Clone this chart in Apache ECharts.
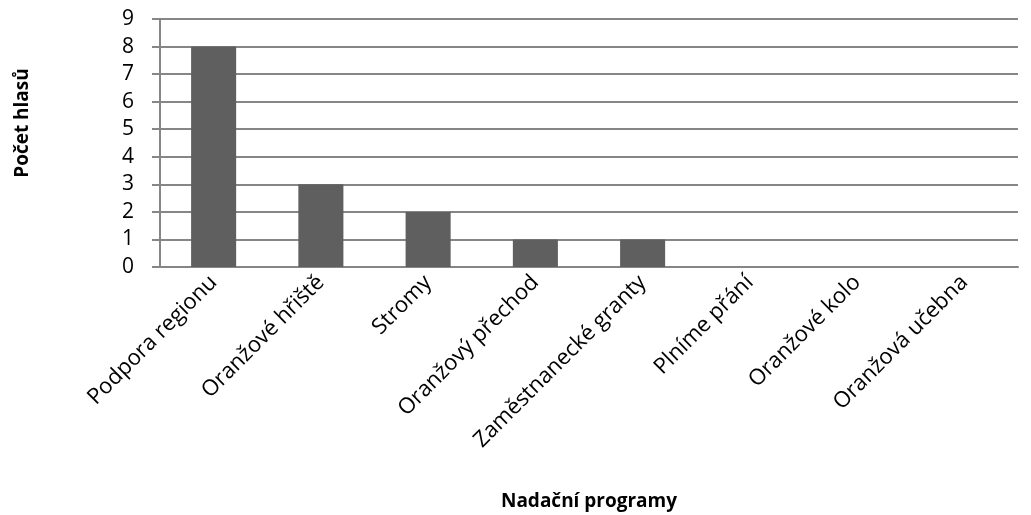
<!DOCTYPE html>
<html>
<head>
<meta charset="utf-8">
<script src="https://cdn.jsdelivr.net/npm/echarts@6/dist/echarts.min.js"></script>
<style>
  html, body { margin: 0; padding: 0; background: #fff; }
  #chart { width: 1031px; height: 515px; }
</style>
</head>
<body>
<div id="chart"></div>
<script>
const categories = ['Podpora regionu', 'Oranžové hřiště', 'Stromy', 'Oranžový přechod',
  'Zaměstnanecké granty', 'Plníme přání', 'Oranžové kolo', 'Oranžová učebna']
const votes = [8, 3, 2, 1, 1, 0, 0, 0]
const xTitle = 'Nadační programy'
const yTitle = 'Počet hlasů'

const font = '"Open Sans", sans-serif'
const lineColor = '#868686'

const chart = echarts.init(document.getElementById('chart'))
chart.setOption({
  animation: false,
  grid: { left: 160, right: 13, top: 19, bottom: 248 },
  graphic: [{
    type: 'text',
    x: 23,
    y: 123,
    rotation: Math.PI / 2,
    style: {
      text: yTitle,
      fontFamily: font,
      fontWeight: 'bold',
      fontSize: 19,
      fill: '#000',
      align: 'center',
      verticalAlign: 'middle'
    }
  }, {
    type: 'text',
    x: 589,
    y: 502,
    style: {
      text: xTitle,
      fontFamily: font,
      fontWeight: 'bold',
      fontSize: 19,
      fill: '#000',
      align: 'center',
      verticalAlign: 'middle'
    }
  }],
  xAxis: {
    type: 'category',
    data: categories,
    axisLine: { lineStyle: { color: lineColor, width: 2 } },
    axisTick: { show: false },
    axisLabel: {
      rotate: 45,
      interval: 0,
      margin: 12,
      fontFamily: font,
      fontSize: 22,
      color: '#000'
    }
  },
  yAxis: {
    type: 'value',
    min: 0,
    max: 9,
    interval: 1,
    axisLine: { show: true, lineStyle: { color: lineColor, width: 2 } },
    axisTick: { show: true, length: 8, lineStyle: { color: lineColor, width: 2 } },
    splitLine: { lineStyle: { color: lineColor, width: 2 } },
    axisLabel: {
      margin: 26,
      fontFamily: font,
      fontSize: 21,
      color: '#000'
    }
  },
  series: [{
    type: 'bar',
    data: votes,
    barWidth: '42%',
    itemStyle: { color: '#5f5f5f' }
  }]
})
</script>
</body>
</html>
